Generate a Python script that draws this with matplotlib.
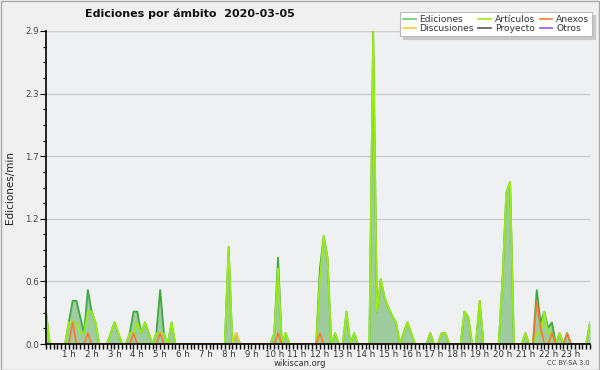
import matplotlib
matplotlib.use("Agg")
import matplotlib.pyplot as plt
from matplotlib.lines import Line2D
from matplotlib.patches import Rectangle
import numpy as np

# ---- data: edits per minute, 10-minute bins (6 per hour) ----
ediciones = [
    0.3, 0, 0, 0, 0, 0,            # 0 h
    0.2, 0.4, 0.4, 0.25, 0.1, 0.5,  # 1 h
    0.3, 0.2, 0, 0, 0, 0.1,         # 2 h
    0.2, 0.1, 0, 0, 0.1, 0.3,       # 3 h
    0.3, 0.1, 0.2, 0.1, 0, 0.1,     # 4 h
    0.5, 0.1, 0, 0.2, 0, 0,         # 5 h
    0, 0, 0, 0, 0, 0,               # 6 h
    0, 0, 0, 0, 0, 0,               # 7 h
    0.9, 0, 0.1, 0, 0, 0,           # 8 h
    0, 0, 0, 0, 0, 0,               # 9 h
    0.1, 0.8, 0, 0.1, 0, 0,         # 10 h
    0, 0, 0, 0, 0, 0,               # 11 h
    0.7, 1.0, 0.8, 0, 0.1, 0,       # 12 h
    0, 0.3, 0, 0.1, 0, 0,           # 13 h
    0, 0, 2.9, 0.3, 0.6, 0.43,      # 14 h
    0.34, 0.26, 0.2, 0, 0.1, 0.2,   # 15 h
    0.1, 0, 0, 0, 0, 0.1,           # 16 h
    0, 0, 0.1, 0.1, 0, 0,           # 17 h
    0, 0, 0.3, 0.25, 0, 0,          # 18 h
    0.4, 0, 0, 0, 0, 0,             # 19 h
    0.6, 1.4, 1.5, 0, 0, 0,         # 20 h
    0.1, 0, 0, 0.5, 0.2, 0.3,       # 21 h
    0.15, 0.2, 0, 0.1, 0, 0.1,      # 22 h
    0, 0, 0, 0, 0, 0.2,             # 23 h
]
articulos = [
    0.3, 0, 0, 0, 0, 0,
    0.2, 0.2, 0.2, 0.1, 0.1, 0.3,
    0.3, 0.2, 0, 0, 0, 0.1,
    0.2, 0.1, 0, 0, 0.1, 0.1,
    0.2, 0.1, 0.2, 0.1, 0, 0.1,
    0.1, 0.1, 0, 0.2, 0, 0,
    0, 0, 0, 0, 0, 0,
    0, 0, 0, 0, 0, 0,
    0.9, 0, 0, 0, 0, 0,
    0, 0, 0, 0, 0, 0,
    0.1, 0.7, 0, 0.1, 0, 0,
    0, 0, 0, 0, 0, 0,
    0.6, 1.0, 0.8, 0, 0.1, 0,
    0, 0.3, 0, 0.1, 0, 0,
    0, 0, 2.9, 0.3, 0.6, 0.43,
    0.34, 0.26, 0.2, 0, 0.1, 0.2,
    0.1, 0, 0, 0, 0, 0.1,
    0, 0, 0.1, 0.1, 0, 0,
    0, 0, 0.3, 0.25, 0, 0,
    0.4, 0, 0, 0, 0, 0,
    0.6, 1.4, 1.5, 0, 0, 0,
    0.1, 0, 0, 0.1, 0.1, 0.3,
    0.1, 0.1, 0, 0.1, 0, 0,
    0, 0, 0, 0, 0, 0.2,
]
# sparse series: {bin index: value}, other bins are zero
anexos = {7: 0.2, 11: 0.1, 23: 0.1, 30: 0.1, 61: 0.1, 72: 0.1,
          129: 0.4, 130: 0.15, 133: 0.1, 137: 0.1}
discusiones = {50: 0.1}
proyecto = {}
otros = {}

hour_ticks = list(range(1, 24))
hour_labels = [f"{h} h" for h in hour_ticks]
y_ticks = [0.0, 0.58, 1.16, 1.74, 2.32, 2.9]
y_labels = ["0.0", "0.6", "1.2", "1.7", "2.3", "2.9"]

title = "Ediciones por ámbito  2020-03-05"
ylabel = "Ediciones/min"

# ---- build ----
n = len(ediciones)
x = np.arange(n) / 6.0

def dense(d):
    arr = np.zeros(n)
    for k, v in d.items():
        arr[k] = v
    return arr

c_ed_fill = "#9fcc9f"
c_ed_line = "#3daa3d"
c_ed_leg = "#66cc66"
c_art = "#99ee11"
c_anx = "#ff7733"
c_dis = "#ffcc22"
c_pro = "#555555"
c_otr = "#9955ff"

fig = plt.figure(figsize=(6, 3.7), dpi=100, facecolor="#f0f0f0")
ax = fig.add_axes([46 / 600, 26 / 370, 544 / 600, 313 / 370])
ax.set_facecolor("#eef0f2")

ax.fill_between(x, 0, ediciones, color=c_ed_fill, lw=0, zorder=1)
ax.plot(x, ediciones, color=c_ed_line, lw=1.3, zorder=2)
ax.plot(x, articulos, color=c_art, lw=1.3, zorder=3)
ax.plot(x, dense(discusiones), color=c_dis, lw=1.2, zorder=3.2)
ax.plot(x, dense(anexos), color=c_anx, lw=1.2, zorder=3.4)

ax.set_xlim(0, x[-1])
ax.set_ylim(0, 2.9)

ax.set_yticks(y_ticks)
ax.set_yticklabels(y_labels)
ax.set_yticks(np.arange(0, 2.9001, 0.145), minor=True)
ax.set_xticks(hour_ticks)
ax.set_xticklabels(hour_labels)
ax.set_xticks(np.arange(0, n) / 6.0, minor=True)

ax.grid(axis="y", which="major", color="#cccccc", lw=1, zorder=0)
ax.set_axisbelow(True)

for s in ["top", "right"]:
    ax.spines[s].set_visible(False)
for s in ["left", "bottom"]:
    ax.spines[s].set_color("black")
    ax.spines[s].set_linewidth(1.2)
    ax.spines[s].set_zorder(5)

ax.tick_params(axis="x", which="both", length=3.5, width=1, direction="out",
               labelsize=6.2, pad=0.5, colors="black", labelcolor="#333333")
ax.tick_params(axis="y", which="major", length=4, width=0.8, labelsize=6.3,
               pad=1, labelcolor="#444444")
ax.tick_params(axis="y", which="minor", length=2.5, width=0.8)

fig.text(85 / 600, 1 - 14 / 370, title, fontsize=8, fontweight="bold",
         ha="left", va="center", color="#111111")
fig.text(10 / 600, 1 - 188 / 370, ylabel, rotation=90, fontsize=7.5,
         ha="center", va="center", color="#222222")
fig.text(300 / 600, 1 - 363 / 370, "wikiscan.org", fontsize=6,
         ha="center", va="center", color="#333333")
fig.text(590 / 600, 1 - 363 / 370, "CC BY-SA 3.0", fontsize=4.8,
         ha="right", va="center", color="#444444")

handles = [
    Line2D([], [], color=c_ed_leg, lw=1.2),
    Line2D([], [], color=c_dis, lw=1.2),
    Line2D([], [], color=c_art, lw=1.2),
    Line2D([], [], color=c_pro, lw=1.2),
    Line2D([], [], color=c_anx, lw=1.2),
    Line2D([], [], color=c_otr, lw=1.2),
]
labels = ["Ediciones", "Discusiones", "Artículos", "Proyecto", "Anexos", "Otros"]
leg = fig.legend(handles, labels, ncol=3, loc="upper right",
                 bbox_to_anchor=(592 / 600, 1 - 12 / 370),
                 fontsize=6.6, frameon=True, fancybox=False,
                 shadow={"color": "#c8c8c8", "alpha": 1},
                 handlelength=1.4, handletextpad=0.4, columnspacing=0.5,
                 labelspacing=0.05, borderpad=0.3, borderaxespad=0)
leg.get_frame().set_edgecolor("#bbbbbb")
leg.get_frame().set_facecolor("white")
leg.get_frame().set_linewidth(0.8)
for t in leg.get_texts():
    t.set_color("#333333")

fig.patches.append(Rectangle((0.5 / 600, 0.5 / 370), 1 - 1.5 / 600, 1 - 1.5 / 370,
                             transform=fig.transFigure, fill=False,
                             edgecolor="#aaaaaa", lw=1))

fig.savefig("out.png", dpi=100, facecolor=fig.get_facecolor())
